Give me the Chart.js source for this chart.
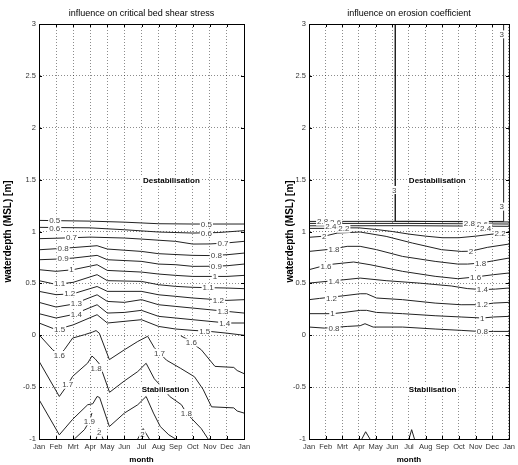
<!DOCTYPE html>
<html>
<head>
<meta charset="utf-8">
<script src="https://cdn.jsdelivr.net/npm/chart.js@4.4.1/dist/chart.umd.min.js"></script>
<style>
  body { margin: 0; background: #fff; }
  #wrap { display: flex; width: 518px; height: 465px; }
  canvas { display: block; }
</style>
</head>
<body>
<div id="wrap">
  <canvas id="shear" width="259" height="465"></canvas>
  <canvas id="erosion" width="259" height="465"></canvas>
</div>
<script>
// month axis and depth ticks
const months = ['Jan', 'Feb', 'Mrt', 'Apr', 'May', 'Jun', 'Jul', 'Aug', 'Sep', 'Oct', 'Nov', 'Dec', 'Jan'];
const depthTicks = [3, 2.5, 2, 1.5, 1, 0.5, 0, -0.5, -1];

//--- influence on critical bed shear stress: contour lines [month, depth]
const shear05 = [[0, 1.107], [3, 1.10], [5, 1.09], [7, 1.075], [9, 1.072], [12, 1.072]];
const shear06 = [[0, 1.04], [3, 1.035], [5, 1.017], [7, 0.995], [9, 0.985], [10.5, 0.99], [12, 1.008]];
const shear07 = [[0, 0.931], [1, 0.935], [3, 0.946], [5, 0.937], [6, 0.927], [8, 0.905], [9, 0.879], [10, 0.88], [11, 0.89], [12, 0.905]];
const shear08 = [[0, 0.824], [1, 0.834], [2, 0.845], [3.4, 0.863], [4, 0.831], [6, 0.808], [7, 0.786], [9, 0.77], [10, 0.768], [11, 0.776], [12, 0.792]];
const shear09 = [[0, 0.728], [1, 0.734], [2, 0.744], [3.4, 0.77], [4, 0.728], [6, 0.712], [7, 0.686], [8, 0.68], [9, 0.664], [10, 0.665], [11, 0.67], [12, 0.686]];
const shear10 = [[0, 0.632], [1, 0.616], [2, 0.632], [3.4, 0.68], [4, 0.625], [6, 0.609], [7, 0.59], [8, 0.577], [9, 0.567], [11, 0.567], [12, 0.577]];
const shear11 = [[0, 0.526], [1, 0.49], [2, 0.51], [3.4, 0.584], [4, 0.526], [6, 0.519], [7, 0.487], [8, 0.471], [9, 0.462], [11, 0.455], [12, 0.449]];
const shear12 = [[0, 0.423], [1, 0.391], [2, 0.40], [3.4, 0.47], [4, 0.423], [6, 0.423], [7, 0.39], [8, 0.375], [9, 0.359], [11, 0.336], [12, 0.343]];
const shear13 = [[0, 0.317], [1, 0.272], [2, 0.30], [3.4, 0.39], [4, 0.326], [5, 0.317], [6, 0.343], [7, 0.294], [8, 0.278], [9, 0.262], [10, 0.246], [11, 0.23], [12, 0.214]];
const shear14 = [[0, 0.208], [1, 0.166], [2, 0.2], [3.4, 0.294], [4, 0.214], [5, 0.22], [6, 0.24], [7, 0.182], [8, 0.166], [9, 0.15], [11, 0.118], [12, 0.118]];
const shear15 = [[0, 0.118], [1, 0.054], [2, 0.1], [3.4, 0.198], [4, 0.118], [6, 0.15], [7, 0.085], [8, 0.06], [9, 0.047], [10, 0.037], [11, 0.02], [12, 0.0]];
const shear16a = [[0, 0.005], [0.8, -0.14], [1.19, -0.19], [1.48, -0.14], [1.97, -0.027], [2.66, 0.005], [3.14, 0.031], [3.34, 0.045], [3.53, 0.02], [4.12, -0.235], [5.0, -0.14], [5.78, -0.06], [6.36, -0.01], [6.75, -0.12], [7.05, -0.17], [7.46, -0.24], [8.3, -0.32], [9.1, -0.40], [9.6, -0.52], [10.1, -0.69], [11.4, -0.70], [11.6, -0.73], [12, -0.75]];
const shear16b = [[8.3, -0.005], [8.7, -0.04], [8.92, -0.07], [9.5, -0.14], [10.3, -0.30], [11.4, -0.31], [11.6, -0.34], [12, -0.37]];
const shear17 = [[0, -0.25], [1.19, -0.59], [1.68, -0.477], [1.97, -0.396], [2.85, -0.268], [3.1, -0.2], [3.3, -0.23], [3.55, -0.28], [4.13, -0.55], [5.0, -0.44], [5.78, -0.35], [6.27, -0.27], [6.75, -0.42], [7.2, -0.5], [7.65, -0.59], [8.34, -0.67], [8.63, -0.75], [8.92, -0.80], [9.5, -0.9], [9.9, -1.0]];
const shear18 = [[0, -0.62], [1.19, -0.96], [1.97, -0.81], [2.85, -0.67], [3.15, -0.66], [3.4, -0.59], [3.55, -0.6], [4.12, -0.88], [5.0, -0.75], [5.78, -0.67], [6.27, -0.59], [6.7, -0.75], [7.1, -0.88], [7.6, -0.96], [8.0, -1.0]];
const shear19 = [[2.07, -1.0], [2.66, -0.91], [2.95, -0.83], [3.1, -0.75]];
const shear20a = [[3.35, -1.0], [3.5, -0.9], [3.75, -1.0]];
const shear20b = [[5.78, -1.0], [6.1, -0.9], [6.46, -1.0]];
const shearLabels = [
  ['0.5', 0.92, 1.107], ['0.5', 9.8, 1.072], ['0.6', 0.92, 1.035], ['0.6', 9.8, 0.985],
  ['0.7', 1.9, 0.94], ['0.7', 10.77, 0.89], ['0.8', 1.41, 0.84], ['0.8', 10.38, 0.77],
  ['0.9', 1.41, 0.738], ['0.9', 10.38, 0.667], ['1', 1.9, 0.632], ['1', 10.3, 0.567],
  ['1.1', 1.21, 0.497], ['1.1', 9.9, 0.458], ['1.2', 1.8, 0.40], ['1.2', 10.5, 0.338],
  ['1.3', 2.19, 0.31], ['1.3', 10.77, 0.23], ['1.4', 2.19, 0.205], ['1.4', 10.87, 0.118],
  ['1.5', 1.21, 0.06], ['1.5', 9.7, 0.04], ['1.6', 1.19, -0.19], ['1.6', 8.92, -0.07],
  ['1.7', 1.68, -0.477], ['1.7', 7.05, -0.17], ['1.8', 3.34, -0.316], ['1.8', 8.63, -0.75],
  ['1.9', 2.95, -0.83], ['2', 3.53, -0.94], ['2', 6.05, -0.95]
];
const shearNotes = [['Destabilisation', 7.75, 1.49], ['Stabilisation', 7.4, -0.52]];

//--- influence on erosion coefficient
const eros30 = [[5.18, 3.0], [5.18, 1.097], [11.68, 1.097], [11.68, 3.0]];
const eros28 = [[0, 1.097], [6, 1.098], [12, 1.092]];
const eros26 = [[0, 1.078], [6, 1.078], [12, 1.072]];
const eros24 = [[0, 1.055], [6, 1.056], [12, 1.05]];
const eros22 = [[0, 1.03], [1, 1.03], [2, 1.035], [3, 1.035], [4, 1.02], [5, 1.0], [6, 0.975], [7, 0.955], [8, 0.94], [9, 0.94], [10, 0.955], [11, 0.975], [12, 0.995]];
const eros20 = [[0, 0.944], [0.92, 0.955], [1.7, 0.985], [3.07, 0.995], [4.63, 0.953], [6.2, 0.889], [7.95, 0.825], [9.13, 0.808], [9.7, 0.81], [10.7, 0.847], [12, 0.879]];
const eros18 = [[0, 0.808], [1.41, 0.831], [2.29, 0.857], [3.07, 0.857], [4.05, 0.825], [5.61, 0.76], [7.57, 0.712], [8.93, 0.686], [9.52, 0.686], [10.3, 0.696], [11.08, 0.718], [12, 0.744]];
const eros16 = [[0, 0.632], [1.12, 0.68], [2.68, 0.706], [3.66, 0.68], [5.61, 0.616], [7.57, 0.568], [8.93, 0.545], [10.0, 0.562], [11.08, 0.584], [12, 0.6]];
const eros14 = [[0, 0.503], [2.1, 0.535], [3.07, 0.551], [4.63, 0.526], [6.6, 0.503], [8.54, 0.475], [9.5, 0.45], [10.4, 0.44], [11.2, 0.445], [12, 0.455]];
const eros12 = [[0, 0.343], [0.63, 0.355], [2.1, 0.381], [3.07, 0.4], [3.46, 0.4], [4.05, 0.359], [5.61, 0.343], [7.57, 0.31], [9.13, 0.294], [10.4, 0.295], [11.08, 0.31], [12, 0.317]];
const eros10 = [[0, 0.208], [1.41, 0.208], [2.1, 0.22], [3.07, 0.24], [3.46, 0.24], [4.05, 0.22], [5.61, 0.208], [7.57, 0.188], [9.13, 0.176], [10.4, 0.166], [11.08, 0.176], [12, 0.182]];
const eros08 = [[0, 0.079], [0.92, 0.069], [2.29, 0.085], [3.07, 0.092], [3.36, 0.111], [3.85, 0.079], [5.61, 0.079], [7.57, 0.06], [9.13, 0.047], [10.4, 0.035], [11.08, 0.037], [12, 0.037]];
const erosHumpA = [[3.17, -1.0], [3.4, -0.93], [3.66, -1.0]];
const erosHumpB = [[6.0, -1.0], [6.16, -0.91], [6.33, -1.0]];
const erosLabels = [
  ['3', 5.12, 1.40], ['3', 11.57, 1.24], ['3', 11.57, 2.9],
  ['2.8', 0.82, 1.095], ['2.6', 1.6, 1.09], ['2.4', 1.31, 1.052], ['2.2', 2.09, 1.027],
  ['2.8', 9.62, 1.078], ['2.6', 10.4, 1.072], ['2.4', 10.6, 1.035], ['2.2', 11.47, 0.985],
  ['2', 0.92, 0.955], ['2', 9.72, 0.81], ['1.8', 1.5, 0.831], ['1.8', 10.3, 0.696],
  ['1.6', 1.02, 0.66], ['1.6', 10.0, 0.562], ['1.4', 1.5, 0.522], ['1.4', 10.4, 0.44],
  ['1.2', 1.35, 0.36], ['1.2', 10.4, 0.295], ['1', 1.41, 0.208], ['1', 10.4, 0.166],
  ['0.8', 1.5, 0.064], ['0.8', 10.4, 0.035]
];
const erosNotes = [['Destabilisation', 7.7, 1.49], ['Stabilisation', 7.42, -0.52]];

const FONT = '"Liberation Sans", Arial, sans-serif';

// contour labels, box, inward ticks and panel title
const contourText = {
  id: 'contourText',
  afterDatasetsDraw(chart, args, o) {
    const { ctx, chartArea: a, scales: { x, y } } = chart;
    ctx.save();
    ctx.textAlign = 'center';
    ctx.textBaseline = 'middle';

    ctx.font = '8px ' + FONT;
    o.labels.forEach(([t, m, d]) => {
      const px = x.getPixelForValue(m), py = y.getPixelForValue(d);
      const w = ctx.measureText(t).width + 2;
      ctx.fillStyle = '#fff';
      ctx.fillRect(px - w / 2, py - 4, w, 8);
      ctx.fillStyle = '#444';
      ctx.fillText(t, px, py + 0.5);
    });

    ctx.font = 'bold 8px ' + FONT;
    o.notes.forEach(([t, m, d]) => {
      const px = x.getPixelForValue(m), py = y.getPixelForValue(d);
      const w = ctx.measureText(t).width + 4;
      ctx.fillStyle = '#fff';
      ctx.fillRect(px - w / 2, py - 5, w, 10);
      ctx.fillStyle = '#000';
      ctx.fillText(t, px, py + 0.5);
    });

    ctx.strokeStyle = '#000';
    ctx.lineWidth = 1;
    ctx.strokeRect(a.left + 0.5, a.top + 0.5, a.right - a.left, a.bottom - a.top);
    ctx.beginPath();
    x.ticks.forEach(t => {
      const px = Math.round(x.getPixelForValue(t.value)) + 0.5;
      ctx.moveTo(px, a.top); ctx.lineTo(px, a.top + 3);
      ctx.moveTo(px, a.bottom); ctx.lineTo(px, a.bottom - 3);
    });
    y.ticks.forEach(t => {
      const py = Math.round(y.getPixelForValue(t.value)) + 0.5;
      ctx.moveTo(a.left, py); ctx.lineTo(a.left + 3, py);
      ctx.moveTo(a.right, py); ctx.lineTo(a.right - 3, py);
    });
    ctx.stroke();

    ctx.font = '9px ' + FONT;
    ctx.fillStyle = '#000';
    ctx.fillText(o.title, (a.left + a.right) / 2, 14);
    ctx.restore();
  }
};

function lineSet(arr) {
  return {
    data: arr.map(([m, d]) => ({ x: m, y: d })),
    showLine: true,
    borderColor: '#222',
    borderWidth: 1,
    pointRadius: 0,
    tension: 0
  };
}

function makeChart(id, lines, title, labels, notes, padLeft, axisWidth, padRight) {
  return new Chart(document.getElementById(id), {
    type: 'scatter',
    data: { datasets: lines.map(lineSet) },
    plugins: [contourText],
    options: {
      responsive: false,
      animation: false,
      layout: { autoPadding: false, padding: { left: padLeft, right: padRight, top: 24, bottom: 0 } },
      plugins: {
        legend: { display: false },
        tooltip: { enabled: false },
        contourText: { title, labels, notes }
      },
      scales: {
        x: {
          type: 'linear', min: 0, max: 12,
          afterBuildTicks: s => { s.ticks = months.map((_, i) => ({ value: i })); },
          afterFit: s => { s.height = 26; },
          ticks: { callback: v => months[v], autoSkip: false, maxRotation: 0, padding: 3, color: '#333', font: { size: 7.5, family: FONT } },
          grid: { color: 'rgba(0,0,0,0.45)', drawTicks: false },
          border: { color: '#000', dash: [1, 2] },
          title: { display: true, text: 'month', color: '#000', font: { size: 8, weight: 'bold', family: FONT }, padding: 0 }
        },
        y: {
          type: 'linear', min: -1, max: 3,
          afterBuildTicks: s => { s.ticks = depthTicks.map(v => ({ value: v })); },
          afterFit: s => { s.width = axisWidth; },
          ticks: { callback: v => String(v), padding: 3, color: '#333', font: { size: 7.5, family: FONT } },
          grid: { color: 'rgba(0,0,0,0.45)', drawTicks: false },
          border: { color: '#000', dash: [1, 2] },
          title: { display: true, text: 'waterdepth (MSL) [m]', color: '#000', font: { size: 10, weight: 'bold', family: FONT }, padding: { top: 2, bottom: 0 } }
        }
      }
    }
  });
}

makeChart('shear',
  [shear05, shear06, shear07, shear08, shear09, shear10, shear11, shear12, shear13, shear14, shear15,
   shear16a, shear16b, shear17, shear18, shear19, shear20a, shear20b],
  'influence on critical bed shear stress', shearLabels, shearNotes, 0, 39, 15);

makeChart('erosion',
  [eros30, eros28, eros26, eros24, eros22, eros20, eros18, eros16, eros14, eros12, eros10, eros08, erosHumpA, erosHumpB],
  'influence on erosion coefficient', erosLabels, erosNotes, 23, 27, 4);
</script>
</body>
</html>
